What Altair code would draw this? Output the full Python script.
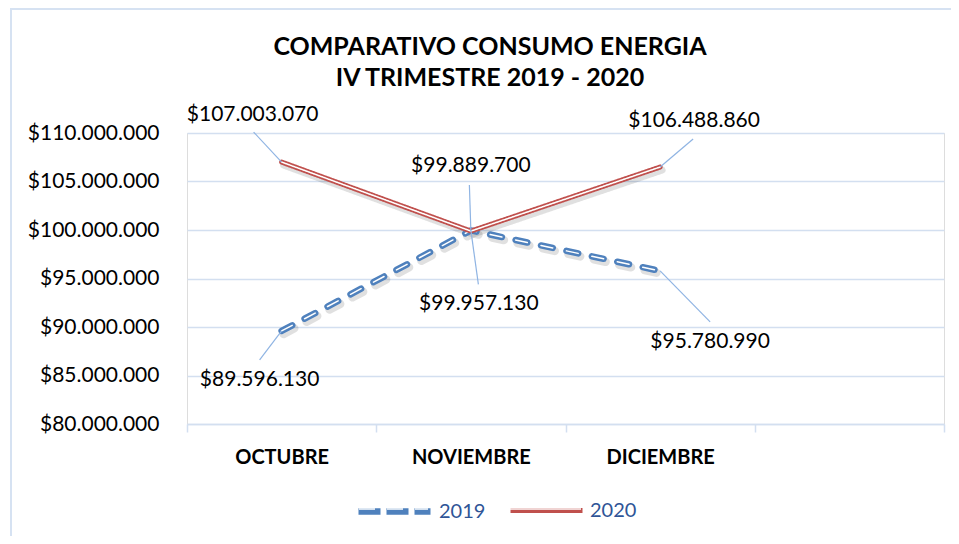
import altair as alt
import pandas as pd

# ---------------- data ----------------
months = ["OCTUBRE", "NOVIEMBRE", "DICIEMBRE"]
axis_months = months + [" "]
series_names = ["2019", "2020"]
values_2019 = [89596130, 99957130, 95780990]
values_2020 = [107003070, 99889700, 106488860]
y_ticks = [80000000, 85000000, 90000000, 95000000, 100000000, 105000000, 110000000]
title_lines = ["COMPARATIVO CONSUMO ENERGIA", "IV TRIMESTRE 2019 - 2020"]

rows = []
for m, v in zip(months, values_2019):
    rows.append({"month": m, "series": "2019", "value": v})
for m, v in zip(months, values_2020):
    rows.append({"month": m, "series": "2020", "value": v})
df = pd.DataFrame(rows)

# ---------------- style ----------------
FONT = "Lato"
FS = 20
FS_NUM = 21
BLUE = "#4f81bd"
RED = "#c0504d"
GRID = "#d3dff0"
LEADER = "#8fb4e3"
LEGEND_TXT = "#2f5597"
W, H = 757, 291

money = "'$' + replace(replace(replace(format(datum.value, ',.0f'), ',', '.'), ',', '.'), ',', '.')"

# label offsets: (text dx, text dy, leader end dx, leader end dy)
label_pos = {
    ("2020", "OCTUBRE"): (-29, -47, -28, -30),
    ("2020", "NOVIEMBRE"): (0, -65, -1.5, -46),
    ("2020", "DICIEMBRE"): (34, -46, 33, -28),
    ("2019", "OCTUBRE"): (-22, 49, -22, 29),
    ("2019", "NOVIEMBRE"): (8, 74, 7.5, 54),
    ("2019", "DICIEMBRE"): (50, 71, 50, 51),
}

line_style = {
    "2019": {"color": BLUE, "width": 6.5, "dash": [12, 14], "leg_dash": [22, 6],
             "leg_inner_dash": [16, 12], "leg_x": 168},
    "2020": {"color": RED, "width": 5, "dash": [1, 0], "leg_dash": [1, 0],
             "leg_inner_dash": [1, 0], "leg_x": 321},
}
SYM_LEN = 72
LEG_Y = 508 - 133 - SYM_LEN / 2
SYM = SYM_LEN * SYM_LEN

xp = alt.X("month:N", scale=alt.Scale(type="point", domain=axis_months, padding=0.5), axis=None)
xp2 = alt.X2("month:N")
ys = alt.Scale(domain=[80000000, 110000000], nice=False, zero=False)
y_axis = alt.Axis(values=y_ticks, labelExpr=money, title=None, domain=False, ticks=False,
                  tickSize=0, grid=True, gridColor=GRID, gridWidth=1.5, labelFont=FONT,
                  labelFontSize=FS_NUM, labelColor="black", labelPadding=28)
yv = alt.Y("value:Q", scale=ys, axis=y_axis)
yv2 = alt.Y2("value:Q")

base = alt.Chart(df)

layers = []

# axis-only layer with band scale (ticks at band edges)
layers.append(
    base.mark_point(opacity=0).encode(
        x=alt.X("month:N",
                scale=alt.Scale(type="band", domain=axis_months, paddingInner=0, paddingOuter=0),
                axis=alt.Axis(title=None, labelAngle=0, tickBand="extent", tickSize=8,
                              tickColor=GRID, tickWidth=1.5, domainColor=GRID, domainWidth=1.5,
                              labelFont=FONT, labelFontSize=FS, labelFontWeight="bold",
                              labelColor="black", labelPadding=15, grid=False)),
        y=yv,
    )
)

# shadows
for s in series_names:
    st = line_style[s]
    layers.append(
        base.transform_filter(alt.datum.series == s).mark_line(
            color="#000000", opacity=0.12, strokeWidth=st["width"] + 2, strokeDash=st["dash"],
            strokeCap="round", strokeJoin="round", xOffset=2, yOffset=3
        ).encode(x=xp, y=yv)
    )

# double lines
for s in series_names:
    st = line_style[s]
    layers.append(
        base.transform_filter(alt.datum.series == s).mark_line(
            strokeWidth=st["width"], strokeDash=st["dash"], strokeCap="round", strokeJoin="round"
        ).encode(
            x=xp, y=yv,
            color=alt.Color("series:N", scale=alt.Scale(domain=[s], range=[st["color"]]),
                            legend=alt.Legend(orient="none", legendX=st["leg_x"], legendY=LEG_Y,
                                              title=None, symbolType="stroke", symbolSize=SYM,
                                              symbolStrokeWidth=st["width"], symbolDash=st["leg_dash"],
                                              labelFont=FONT, labelFontSize=FS, labelColor=LEGEND_TXT,
                                              labelOffset=5, padding=0)),
        )
    )
    layers.append(
        base.transform_filter(alt.datum.series == s).mark_line(
            strokeWidth=1.5, strokeDash=st["dash"], strokeCap="round", strokeJoin="round"
        ).encode(
            x=xp, y=yv,
            color=alt.Color("series:N", scale=alt.Scale(domain=[s], range=["#ffffff"]),
                            legend=alt.Legend(orient="none", legendX=st["leg_x"], legendY=LEG_Y,
                                              title=None, symbolType="stroke", symbolSize=SYM,
                                              symbolStrokeWidth=1.5, symbolDash=st["leg_inner_dash"],
                                              symbolDashOffset=-3, labelExpr="''",
                                              labelFont=FONT, labelFontSize=FS,
                                              labelOffset=5, padding=0)),
        )
    )

# leader lines and data labels
for (s, m), (tdx, tdy, ldx, ldy) in label_pos.items():
    sub = base.transform_filter((alt.datum.series == s) & (alt.datum.month == m))
    layers.append(
        sub.mark_rule(color=LEADER, strokeWidth=1.2, x2Offset=ldx, y2Offset=ldy).encode(
            x=xp, x2=xp2, y=yv, y2=yv2)
    )
    layers.append(
        sub.transform_calculate(label=money).mark_text(
            font=FONT, fontSize=FS_NUM, color="black", dx=tdx, dy=tdy, align="center", baseline="middle"
        ).encode(x=xp, y=yv, text="label:N")
    )

# chart title (two lines), placed above the plot area
one = pd.DataFrame({"a": [0]})
for i, line in enumerate(title_lines):
    layers.append(
        alt.Chart(one).mark_text(font=FONT, fontSize=25, fontWeight="bold", color="black",
                                 align="center", baseline="middle").encode(
            x=alt.value(303), y=alt.value(-86 + 31 * i), text=alt.value(line))
    )

# outer chart frame line
frame = alt.Chart(one).mark_rect(
    fill=None, stroke="#d6e2f2", strokeWidth=2
).encode(x=alt.value(-176), x2=alt.value(790), y=alt.value(-124), y2=alt.value(430))
layers.append(frame)

chart = alt.layer(*layers).resolve_scale(
    color="independent", x="independent"
).resolve_legend(color="independent").properties(
    width=W, height=H,
    autosize=alt.AutoSizeParams(type="none"),
    padding={"left": 179, "top": 125, "right": 7, "bottom": 112},
).configure_view(stroke=None).configure(background="white")

chart.save("out.html", embed_options={"renderer": "svg", "actions": False})
